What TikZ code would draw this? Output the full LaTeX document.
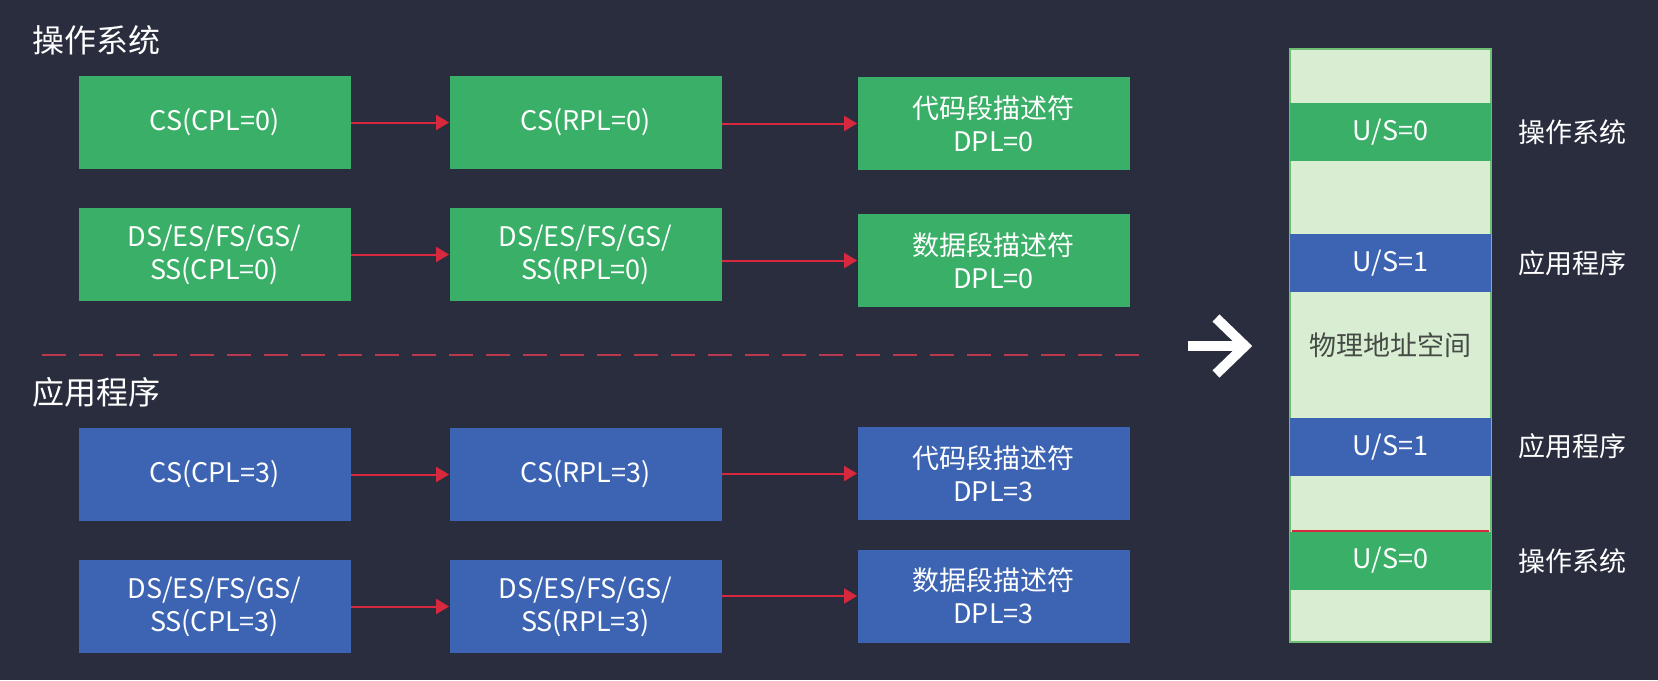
\documentclass[tikz,border=0pt]{standalone}
\usepackage{fontspec}
\setmainfont{Noto Sans CJK SC}
\usetikzlibrary{arrows.meta}

\definecolor{bgnavy}{HTML}{292D3E}
\definecolor{osgreen}{HTML}{39AF67}
\definecolor{appblue}{HTML}{3D64B3}
\definecolor{memgreen}{HTML}{D8EDD2}
\definecolor{memedge}{HTML}{6FBF73}
\definecolor{linkred}{HTML}{D8283E}
\definecolor{dashred}{HTML}{B8394E}
\definecolor{memtext}{HTML}{454A45}

\tikzset{
  segbox/.style={minimum width=136pt, minimum height=46.5pt, inner sep=0pt,
    text=white, align=center, font=\fontsize{13.5}{16.5}\selectfont},
  osbox/.style={segbox, fill=osgreen},
  appbox/.style={segbox, fill=appblue},
  link/.style={draw=linkred, line width=1pt, -{Triangle[length=6.5pt,width=7.5pt]}},
  band/.style={minimum width=100.5pt, minimum height=29pt, inner sep=0pt,
    text=white, font=\fontsize{13.5}{16}\selectfont},
  sidelabel/.style={anchor=west, inner sep=0pt, text=white, font=\fontsize{13.5}{16}\selectfont},
  heading/.style={anchor=west, inner sep=0pt, text=white, font=\fontsize{16}{19}\selectfont}
}

\begin{document}
\begin{tikzpicture}[x=0.5pt, y=-0.5pt]
\fill [bgnavy] (0,0) rectangle (1658,680);
\useasboundingbox (0,0) rectangle (1658,680);
% headings
\node [heading] (osTitle) at (32,40) {操作系统};
\node [heading] (appTitle) at (32,392) {应用程序};
% operating system segments
\node [osbox] (osCS) at (214.5,122.5) {CS(CPL=0)};
\node [osbox] (osCSrpl) at (585.5,122.5) {CS(RPL=0)};
\node [osbox] (osCodeDesc) at (993.5,123.5) {代码段描述符\\DPL=0};
\node [osbox] (osDS) at (214.5,254.5) {DS/ES/FS/GS/\\SS(CPL=0)};
\node [osbox] (osDSrpl) at (585.5,254.5) {DS/ES/FS/GS/\\SS(RPL=0)};
\node [osbox] (osDataDesc) at (993.5,260.5) {数据段描述符\\DPL=0};
\draw [link] (osCS) -- (osCSrpl);
\draw [link] (osCSrpl.east |- osCodeDesc.west) -- (osCodeDesc.west);
\draw [link] (osDS) -- (osDSrpl);
\draw [link] (osDSrpl.east |- osDataDesc.west) -- (osDataDesc.west);
% separator
\coordinate (sepL) at (42,355);
\coordinate (sepR) at (1147,355);
\draw [dashred, line width=1.3pt, dash pattern=on 12pt off 6.5pt] (sepL) -- (sepR);
% application segments
\node [appbox] (appCS) at (214.5,474.5) {CS(CPL=3)};
\node [appbox] (appCSrpl) at (585.5,474.5) {CS(RPL=3)};
\node [appbox] (appCodeDesc) at (993.5,473.5) {代码段描述符\\DPL=3};
\node [appbox] (appDS) at (214.5,606.5) {DS/ES/FS/GS/\\SS(CPL=3)};
\node [appbox] (appDSrpl) at (585.5,606.5) {DS/ES/FS/GS/\\SS(RPL=3)};
\node [appbox] (appDataDesc) at (993.5,596) {数据段描述符\\DPL=3};
\draw [link] (appCS) -- (appCSrpl);
\draw [link] (appCSrpl.east |- appCodeDesc.west) -- (appCodeDesc.west);
\draw [link] (appDS) -- (appDSrpl);
\draw [link] (appDSrpl.east |- appDataDesc.west) -- (appDataDesc.west);
% white arrow
\coordinate (chevTail) at (1188,346);
\coordinate (chevTip) at (1245,346);
\draw [white, line width=5pt] (chevTail) -- (chevTip);
\draw [white, line width=5pt, miter limit=4] (1216,318) -- (chevTip) -- (1216,374);
% physical address space
\draw [memedge, fill=memgreen, line width=0.75pt] (1290,49) rectangle (1491,642);
\node [band, fill=osgreen] (usOSa) at (1390.5,132) {U/S=0};
\node [band, fill=appblue] (usAppA) at (1390.5,263) {U/S=1};
\node [inner sep=0pt, text=memtext, font=\fontsize{13.5}{16}\selectfont] (physSpace) at (1390.5,345) {物理地址空间};
\node [band, fill=appblue] (usAppB) at (1390.5,447) {U/S=1};
\node [band, fill=osgreen] (usOSb) at (1390.5,560.5) {U/S=0};
\draw [linkred, line width=1pt] ([xshift=1pt]usOSb.north west) -- ([xshift=-1pt]usOSb.north east);
% side labels
\node [sidelabel] (lblOSa) at (1518,132) {操作系统};
\node [sidelabel] (lblAppA) at (1518,263) {应用程序};
\node [sidelabel] (lblAppB) at (1518,446) {应用程序};
\node [sidelabel] (lblOSb) at (1518,561) {操作系统};
\end{tikzpicture}
\end{document}
